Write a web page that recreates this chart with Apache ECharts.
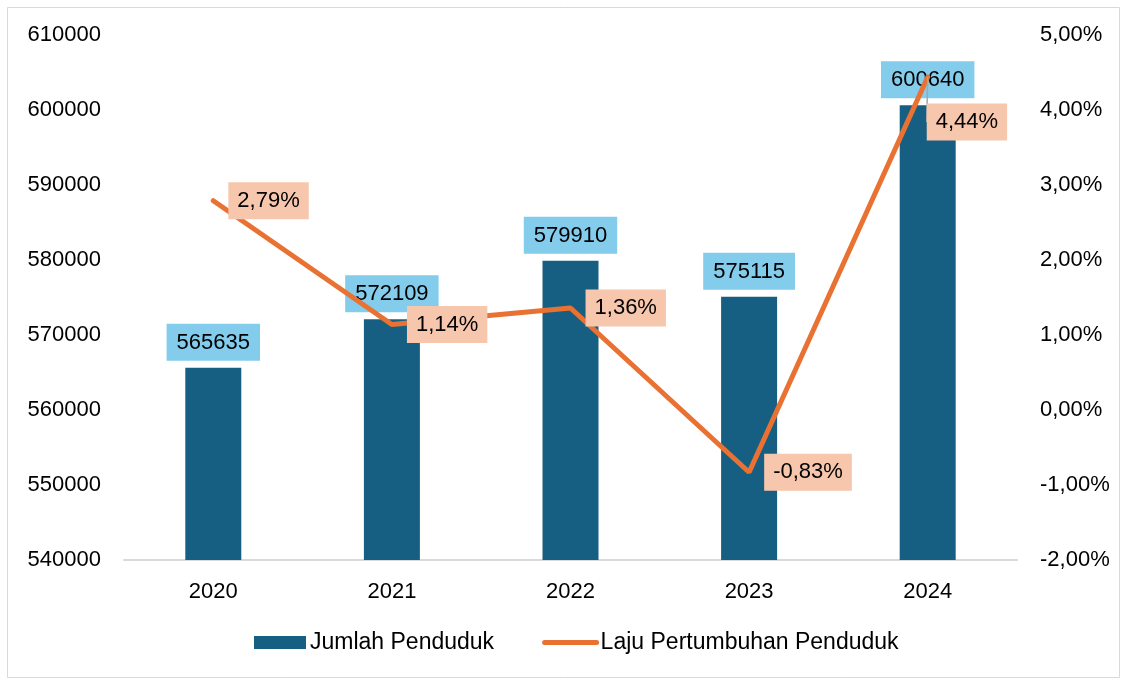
<!DOCTYPE html>
<html>
<head>
<meta charset="utf-8">
<script src="https://cdn.jsdelivr.net/npm/echarts@6/dist/echarts.min.js"></script>
<style>
  html, body { margin: 0; padding: 0; background: #fff; }
  #chart { width: 1123px; height: 680px; }
</style>
</head>
<body>
<div id="chart"></div>
<script>
// data
var years = ['2020', '2021', '2022', '2023', '2024'];
var jumlahPenduduk = [565635, 572109, 579910, 575115, 600640];
var lajuPertumbuhan = [2.79, 1.14, 1.36, -0.83, 4.44]; // persen

var fontFam = 'Liberation Sans, Arial, sans-serif';
function pct(v) { return v.toFixed(2).replace('.', ',') + '%'; }

// label terakhir digeser ke bawah, pakai garis penunjuk
var lajuData = lajuPertumbuhan.map(function (v, i) {
  if (i === lajuPertumbuhan.length - 1) {
    return { value: v, labelLine: { show: true } };
  }
  return v;
});

var chart = echarts.init(document.getElementById('chart'));
chart.setOption({
  backgroundColor: '#fff',
  textStyle: { fontFamily: fontFam },
  animation: false,
  graphic: [{
    type: 'rect',
    shape: { x: 7.5, y: 7.5, width: 1112, height: 670 },
    style: { fill: 'none', stroke: '#d9d9d9', lineWidth: 1 },
    z: -1
  }],
  grid: { left: 124, right: 106, top: 35, bottom: 120 },
  legend: {
    bottom: 21,
    left: 249,
    itemGap: 48,
    itemWidth: 52,
    itemHeight: 13,
    textStyle: { fontSize: 23, color: '#000', padding: [0, 0, 0, -1] },
    data: [
      { name: 'Jumlah Penduduk', icon: 'rect' },
      {
        name: 'Laju Pertumbuhan Penduduk',
        itemStyle: { opacity: 0 },
        lineStyle: { width: 5, cap: 'round', color: '#E97132' }
      }
    ]
  },
  xAxis: {
    type: 'category',
    data: years,
    axisLine: { onZero: false, lineStyle: { color: '#d9d9d9', width: 2 } },
    axisTick: { show: false },
    axisLabel: { fontSize: 22, color: '#000', margin: 21 }
  },
  yAxis: [
    {
      type: 'value',
      min: 540000, max: 610000, interval: 10000,
      splitLine: { show: false },
      axisLine: { show: false },
      axisLabel: { fontSize: 22, color: '#000', margin: 23, formatter: function (v) { return String(v); } }
    },
    {
      type: 'value',
      min: -2, max: 5, interval: 1,
      splitLine: { show: false },
      axisLine: { show: false },
      axisLabel: { fontSize: 22, color: '#000', margin: 23, formatter: pct }
    }
  ],
  series: [
    {
      name: 'Jumlah Penduduk',
      type: 'bar',
      data: jumlahPenduduk,
      barWidth: 56,
      itemStyle: { color: '#175F82' },
      label: {
        show: true,
        position: 'top',
        distance: 7,
        fontSize: 22,
        color: '#000',
        backgroundColor: '#83CCEB',
        padding: [8, 10, 7, 10],
        formatter: function (p) { return String(p.value); }
      },
      z: 2
    },
    {
      name: 'Laju Pertumbuhan Penduduk',
      type: 'line',
      yAxisIndex: 1,
      data: lajuData,
      symbol: 'circle',
      symbolSize: 0.1,
      showSymbol: true,
      lineStyle: { color: '#E97132', width: 5, cap: 'round' },
      itemStyle: { color: '#E97132' },
      label: {
        show: true,
        position: 'right',
        distance: 15,
        fontSize: 22,
        color: '#000',
        backgroundColor: '#F6C6AD',
        padding: [8, 9, 7, 9],
        formatter: function (p) { return pct(p.value); }
      },
      labelLine: { show: false, lineStyle: { color: '#a6a6a6', width: 1.5 } },
      labelLayout: function (params) {
        if (params.dataIndex === 4) return { dx: -16, dy: 45 };
        return {};
      },
      z: 3
    }
  ]
});
</script>
</body>
</html>
